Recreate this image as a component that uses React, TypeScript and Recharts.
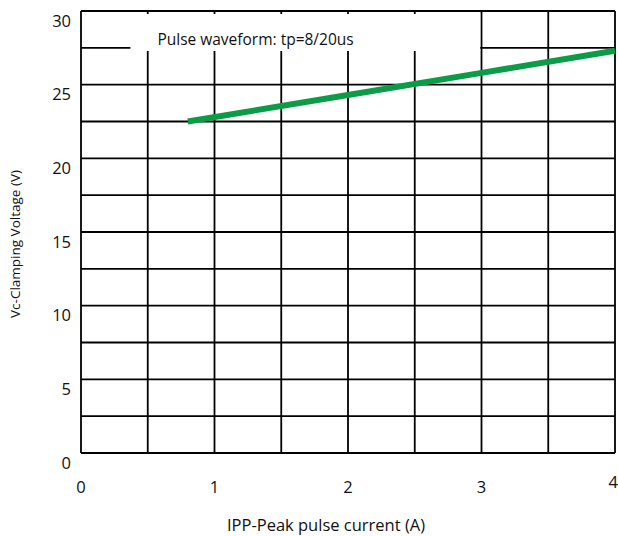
import { LineChart, Line, XAxis, YAxis, CartesianGrid, ReferenceArea, Label } from 'recharts';

// grid steps and labelled ticks
const xGrid = [0, 0.5, 1, 1.5, 2, 2.5, 3, 3.5, 4];
const xLabels = [0, 1, 2, 3, 4];
const yGrid = [0, 2.5, 5, 7.5, 10, 12.5, 15, 17.5, 20, 22.5, 25, 27.5, 30];
const yLabels = [0, 5, 10, 15, 20, 25, 30];

// IPP (A) vs Vc (V)
const current = [0.8, 2, 3, 4];
const voltage = [22.5, 24.3, 25.8, 27.3];

const legendText = 'Pulse waveform: tp=8/20us';

const data = current.map((c, i) => ({ ipp: c, vc: voltage[i] }));

const FONT = '"Open Sans", "Noto Sans", sans-serif';

const XTick = (props: any) => {
  const { x, y, payload } = props;
  if (!xLabels.includes(payload.value)) return null;
  // last label sits against the right edge, slightly raised like the source
  const last = payload.value === xLabels[xLabels.length - 1];
  return (
    <text
      x={last ? x + 3 : x}
      y={last ? y + 26 : y + 31}
      textAnchor={last ? 'end' : 'middle'}
      dominantBaseline="central"
      fontSize={16.5}
      fill="#111"
      fontFamily={FONT}
    >
      {payload.value}
    </text>
  );
};

const YTick = (props: any) => {
  const { x, y, payload } = props;
  if (!yLabels.includes(payload.value)) return null;
  return (
    <text x={x - 8} y={y + 9} textAnchor="end" dominantBaseline="central" fontSize={16.5} fill="#111" fontFamily={FONT}>
      {payload.value}
    </text>
  );
};

const App = () => {
  return (
    <div style={{ position: 'absolute', left: 0, top: 0, background: '#fff' }}>
      <LineChart width={618} height={536} data={data} margin={{ top: 11, right: 3, left: 0, bottom: 0 }}>
        <CartesianGrid stroke="#000" strokeWidth={1.8} />
        <XAxis
          dataKey="ipp"
          type="number"
          domain={[0, 4]}
          ticks={xGrid}
          interval={0}
          height={83}
          axisLine={false}
          tickLine={false}
          tickSize={0}
          tick={<XTick />}
        >
          <Label
            content={({ viewBox }: any) => (
              <text
                x={viewBox.x + viewBox.width / 2 - 22}
                y={viewBox.y + 71}
                textAnchor="middle"
                dominantBaseline="central"
                fontSize={16.5}
                fill="#111"
                fontFamily={FONT}
              >
                IPP-Peak pulse current (A)
              </text>
            )}
          />
        </XAxis>
        <YAxis
          type="number"
          domain={[0, 30]}
          ticks={yGrid}
          interval={0}
          width={81}
          axisLine={false}
          tickLine={false}
          tickSize={0}
          tick={<YTick />}
        >
          <Label
            content={({ viewBox }: any) => {
              const cx = 15;
              const cy = viewBox.y + viewBox.height / 2 + 12;
              return (
                <text
                  x={cx}
                  y={cy}
                  transform={`rotate(-90, ${cx}, ${cy})`}
                  textAnchor="middle"
                  dominantBaseline="central"
                  fontSize={13.5}
                  fill="#111"
                  fontFamily={FONT}
                >
                  Vc-Clamping Voltage (V)
                </text>
              );
            }}
          />
        </YAxis>
        <ReferenceArea
          x1={0.37}
          x2={2.99}
          y1={27.28}
          y2={29.8}
          fill="#fff"
          fillOpacity={1}
          stroke="none"
          label={({ viewBox }: any) => (
            <text
              x={viewBox.x + 27}
              y={viewBox.y + viewBox.height / 2 + 6}
              dominantBaseline="central"
              fontSize={15.5}
              fill="#111"
              fontFamily={FONT}
            >
              {legendText}
            </text>
          )}
        />
        <Line
          type="linear"
          dataKey="vc"
          stroke="#0c9b47"
          strokeWidth={6}
          dot={false}
          activeDot={false}
          isAnimationActive={false}
        />
      </LineChart>
    </div>
  );
};

export default App;
